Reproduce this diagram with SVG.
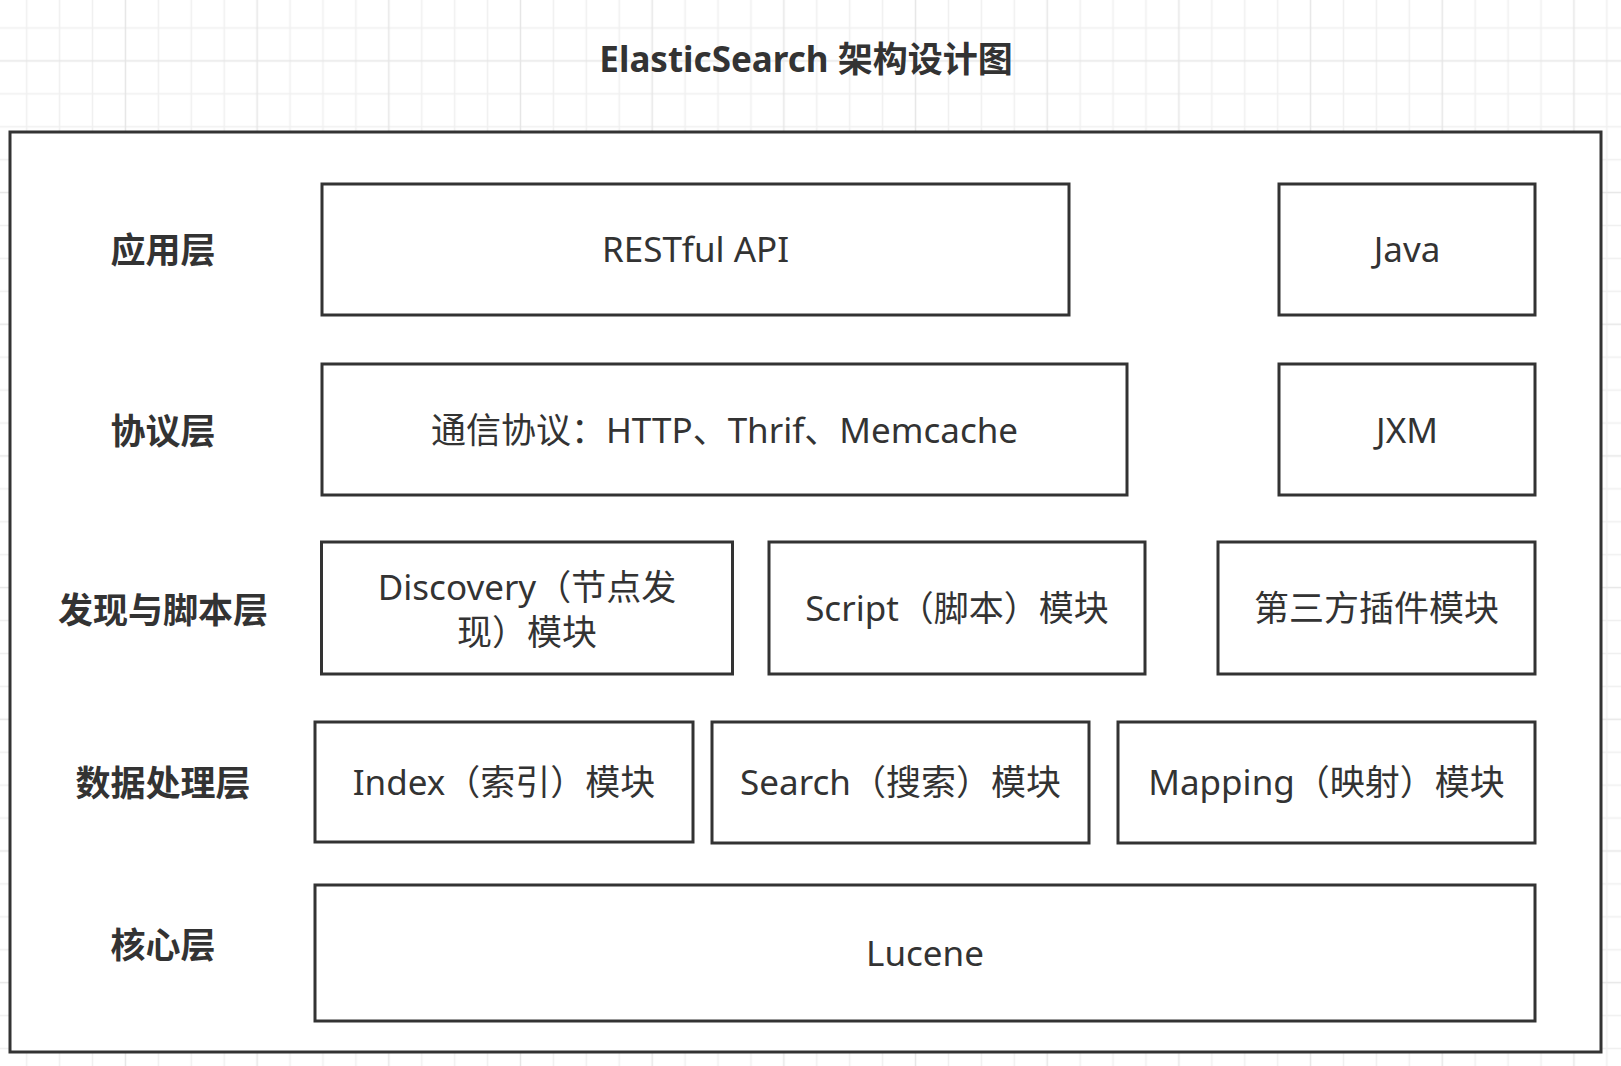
<svg xmlns="http://www.w3.org/2000/svg" width="1621" height="1066" viewBox="0 0 1621 1066">
  <style>
    .box { fill: #ffffff; stroke: #333333; stroke-width: 3; }
    .txt { font-family: "Noto Sans", "Noto Sans CJK SC", sans-serif; font-size: 35px; fill: #333333; text-anchor: middle; }
    .lbl { font-family: "Noto Sans", "Noto Sans CJK SC", sans-serif; font-size: 35px; font-weight: bold; fill: #333333; text-anchor: middle; }
    .title { font-family: "Noto Sans", "Noto Sans CJK SC", sans-serif; font-size: 35px; font-weight: bold; fill: #333333; text-anchor: middle; }
  </style>
  <defs>
    <pattern id="grid" patternUnits="userSpaceOnUse" x="109" y="44.44" width="131.68" height="131.68">
      <g fill="none" stroke-width="1.5">
        <path d="M49.38 0V131.68M82.3 0V131.68M115.22 0V131.68M0 49.38H131.68M0 82.3H131.68M0 115.22H131.68" stroke="#f0f0f0"/>
        <path d="M16.46 0V131.68M0 16.46H131.68" stroke="#e6e6e6"/>
      </g>
    </pattern>
  </defs>
  <rect x="0" y="0" width="1621" height="1066" fill="#ffffff"/>
  <rect x="0" y="0" width="1621" height="1066" fill="url(#grid)"/>

  <text class="title" x="806" y="72">ElasticSearch 架构设计图</text>

  <g id="container">
    <rect class="box" x="10" y="132" width="1591" height="920"/>
  </g>

  <g id="label-app"><text class="lbl" x="163" y="263">应用层</text></g>
  <g id="label-protocol"><text class="lbl" x="163" y="444">协议层</text></g>
  <g id="label-discovery"><text class="lbl" x="163" y="623">发现与脚本层</text></g>
  <g id="label-data"><text class="lbl" x="163" y="796">数据处理层</text></g>
  <g id="label-core"><text class="lbl" x="163" y="958">核心层</text></g>

  <g id="node-restful">
    <rect class="box" x="322" y="184" width="747" height="131"/>
    <text class="txt" x="695.5" y="262">RESTful API</text>
  </g>
  <g id="node-java">
    <rect class="box" x="1279" y="184" width="256" height="131"/>
    <text class="txt" x="1407" y="262">Java</text>
  </g>
  <g id="node-protocol">
    <rect class="box" x="322" y="364" width="805" height="131"/>
    <text class="txt" x="724.5" y="443">通信协议：HTTP、Thrif、Memcache</text>
  </g>
  <g id="node-jxm">
    <rect class="box" x="1279" y="364" width="256" height="131"/>
    <text class="txt" x="1407" y="443">JXM</text>
  </g>
  <g id="node-discovery">
    <rect class="box" x="321.5" y="542" width="411" height="132"/>
    <text class="txt" x="527" y="600">Discovery（节点发</text>
    <text class="txt" x="527" y="645">现）模块</text>
  </g>
  <g id="node-script">
    <rect class="box" x="769" y="542" width="376" height="132"/>
    <text class="txt" x="957" y="621">Script（脚本）模块</text>
  </g>
  <g id="node-plugin">
    <rect class="box" x="1218" y="542" width="317" height="132"/>
    <text class="txt" x="1376.5" y="621">第三方插件模块</text>
  </g>
  <g id="node-index">
    <rect class="box" x="315" y="722" width="378" height="120"/>
    <text class="txt" x="504" y="795">Index（索引）模块</text>
  </g>
  <g id="node-search">
    <rect class="box" x="712" y="722" width="377" height="121"/>
    <text class="txt" x="900.5" y="795">Search（搜索）模块</text>
  </g>
  <g id="node-mapping">
    <rect class="box" x="1118" y="722" width="417" height="121"/>
    <text class="txt" x="1326.5" y="795">Mapping（映射）模块</text>
  </g>
  <g id="node-lucene">
    <rect class="box" x="315" y="885" width="1220" height="136"/>
    <text class="txt" x="925" y="966">Lucene</text>
  </g>

  <g id="connectors"></g>
</svg>
